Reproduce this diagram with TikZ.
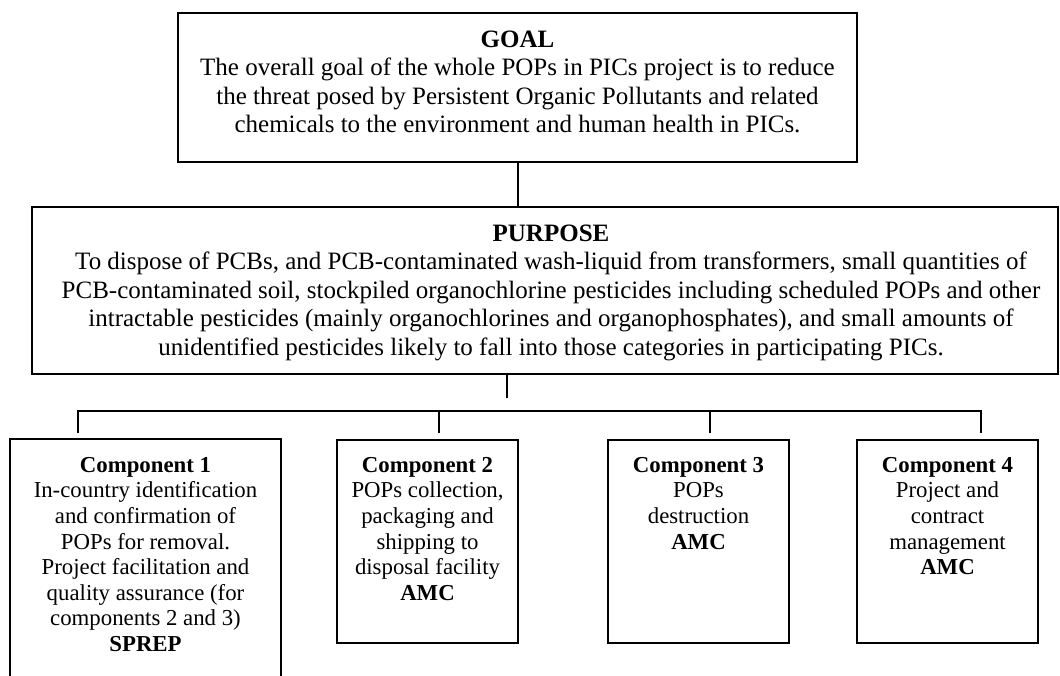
\documentclass[tikz,border=0pt]{standalone}
\usepackage{fontspec}
\setmainfont{Liberation Serif}
\begin{document}
\begin{tikzpicture}[x=1pt,y=-1pt,
  box/.style={draw=black, line width=2pt, inner sep=0pt},
  bigtxt/.style={font=\fontsize{25}{28.5}\selectfont, align=center, inner sep=0pt, anchor=north},
  smalltxt/.style={font=\fontsize{22.8}{25.6}\selectfont, align=center, inner sep=0pt, anchor=north},
  link/.style={draw=black, line width=2pt}]
  % page frame; the first component box runs off the bottom edge
  \useasboundingbox (0,0) rectangle (1060,675);
  \clip (0,0) rectangle (1060,675);

  % boxes
  \node[box, minimum width=679pt, minimum height=149pt] (goal) at (517.5,87.5) {};
  \node[box, minimum width=1026pt, minimum height=167pt] (purpose) at (545,290.5) {};
  \node[box, minimum width=271pt, minimum height=261pt] (comp1) at (145.5,569.5) {};
  \node[box, minimum width=181pt, minimum height=203pt] (comp2) at (427.5,541.5) {};
  \node[box, minimum width=181pt, minimum height=203pt] (comp3) at (698.5,541.5) {};
  \node[box, minimum width=181pt, minimum height=203pt] (comp4) at (947.5,541.5) {};

  % texts
  \node[bigtxt] (goaltext) at (517.5,29) {\rule{0pt}{18pt}\textbf{GOAL}\\
    The overall goal of the whole POPs in PICs project is to reduce\\
    the threat posed by Persistent Organic Pollutants and related\\
    chemicals to the environment and human health in PICs.};
  \node[bigtxt] (purposetext) at (551,223) {\rule{0pt}{18pt}\textbf{PURPOSE}\\
    To dispose of PCBs, and PCB-contaminated wash-liquid from transformers, small quantities of\\
    PCB-contaminated soil, stockpiled organochlorine pesticides including scheduled POPs and other\\
    intractable pesticides (mainly organochlorines and organophosphates), and small amounts of\\
    unidentified pesticides likely to fall into those categories in participating PICs.};
  \node[smalltxt] (comp1text) at (145.5,456) {\rule{0pt}{16pt}\textbf{Component 1}\\
    In-country identification\\and confirmation of\\POPs for removal.\\
    Project facilitation and\\quality assurance (for\\components 2 and 3)\\\textbf{SPREP}};
  \node[smalltxt] (comp2text) at (427.5,456) {\rule{0pt}{16pt}\textbf{Component 2}\\
    POPs collection,\\packaging and\\shipping to\\disposal facility\\\textbf{AMC}};
  \node[smalltxt] (comp3text) at (698.5,456) {\rule{0pt}{16pt}\textbf{Component 3}\\
    POPs\\destruction\\\textbf{AMC}};
  \node[smalltxt] (comp4text) at (947.5,456) {\rule{0pt}{16pt}\textbf{Component 4}\\
    Project and\\contract\\management\\\textbf{AMC}};

  % connector ends
  \coordinate (pstub) at (507,398);
  \coordinate (bar) at (78,411);
  \coordinate (s1) at (78,433);
  \coordinate (s2) at (439,433);
  \coordinate (s3) at (710,433);
  \coordinate (s4) at (981,433);

  % connectors
  \draw[link] (goal.south) -- (goal.south |- purpose.north);
  \draw[link] (purpose.south -| pstub) -- (pstub);
  \draw[link] (s1) -- (s1 |- bar) -- (s4 |- bar) -- (s4);
  \draw[link] (s2 |- bar) -- (s2);
  \draw[link] (s3 |- bar) -- (s3);
\end{tikzpicture}
\end{document}
